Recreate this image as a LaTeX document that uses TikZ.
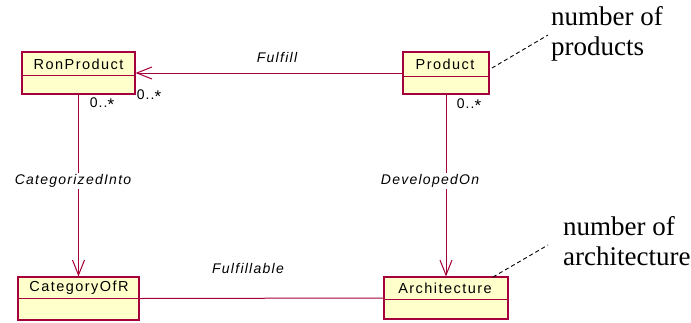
\documentclass[tikz,border=0pt]{standalone}
\usepackage{fontspec}
\setmainfont{Liberation Serif}
\newfontfamily\umlfont[LetterSpace=10]{Liberation Sans}
\newfontfamily\multfont[LetterSpace=8]{Liberation Sans}
\newfontfamily\umlitfont[LetterSpace=9]{Liberation Sans Italic}
\newfontfamily\notefont{Liberation Serif}
\usetikzlibrary{arrows.meta}
\definecolor{umlline}{RGB}{165,0,60}
\definecolor{umlfill}{RGB}{255,255,204}
\newcommand{\mult}{0..\raisebox{-0.22em}{\fontsize{17}{17}\selectfont *}}
\tikzset{
  classbox/.style={draw=umlline, fill=umlfill, line width=1.2pt, inner sep=0pt},
  classtitle/.style={font=\umlfont\fontsize{14.5}{16}\selectfont, inner sep=0pt},
  assoc/.style={draw=umlline, line width=1pt},
  navarrow/.style={-{Straight Barb[length=15pt,width=12pt,line width=1pt]}},
  rolelabel/.style={font=\umlitfont\fontsize{14}{16}\selectfont, inner sep=1pt},
  whitelabel/.style={rolelabel, fill=white},
  multlabel/.style={font=\multfont\fontsize{14}{16}\selectfont, inner sep=0pt},
  notetext/.style={font=\notefont\fontsize{27}{30}\selectfont, align=left, inner sep=0pt, anchor=base west},
  noteline/.style={dashed, line width=0.9pt, dash pattern=on 4pt off 3pt}
}
\begin{document}
\begin{tikzpicture}[x=1pt,y=-1pt]
\useasboundingbox (0,0) rectangle (691,322);
% classes
\node[classbox, minimum width=113pt, minimum height=42pt] (ron) at (78.5,73) {};
\draw[umlline, line width=1pt] (22,75) -- (135,75);
\node[classtitle] (rontitle) at (78.5,64) {RonProduct};

\node[classbox, minimum width=86pt, minimum height=42pt] (prod) at (446,73) {};
\draw[umlline, line width=1pt] (403,76) -- (489,76);
\node[classtitle] (prodtitle) at (445,64.5) {Product};

\node[classbox, minimum width=121pt, minimum height=43pt] (cat) at (78.5,298.5) {};
\draw[umlline, line width=1pt] (18,298) -- (139,298);
\node[classtitle] (cattitle) at (79,288) {CategoryOfR};

\node[classbox, minimum width=124pt, minimum height=42pt] (arch) at (446,298) {};
\draw[umlline, line width=1pt] (384,299) -- (508,299);
\node[classtitle] (archtitle) at (445,288.5) {Architecture};

% associations
\draw[assoc, navarrow] (prod.west) -- (ron.east);
\draw[assoc, navarrow] (ron.south) -- (cat.north);
\draw[assoc, navarrow] (prod.south) -- (arch.north);
\draw[assoc] (cat.east) -- (arch.west);

% labels
\node[rolelabel] (lfulfill) at (277,57) {Fulfill};
\node[whitelabel] (lcat) at (73,181) {CategorizedInto};
\node[whitelabel] (ldev) at (430,181) {DevelopedOn};
\node[rolelabel] (lfulfillable) at (248,268) {Fulfillable};

\node[multlabel] (m1) at (102,104) {\mult};
\node[multlabel] (m2) at (149,96) {\mult};
\node[multlabel] (m3) at (469,105) {\mult};

% notes
\node[notetext] (note1) at (551,55) {number of\\products};
\node[notetext] (note2) at (563,265) {number of\\architecture};
\coordinate (n1a) at (492,68);
\coordinate (n1b) at (548,35);
\coordinate (n2a) at (493,277);
\coordinate (n2b) at (548,245);
\draw[noteline] (n1a) -- (n1b);
\draw[noteline] (n2a) -- (n2b);
\end{tikzpicture}
\end{document}
